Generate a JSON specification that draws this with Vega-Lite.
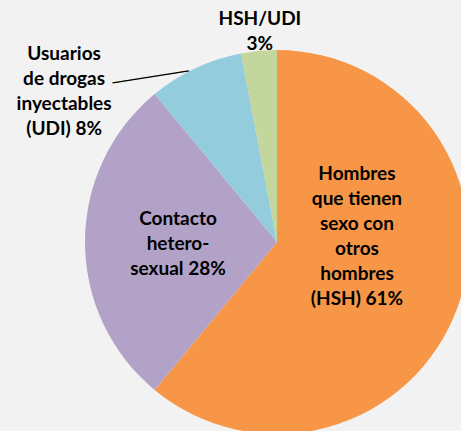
{
  "$schema": "https://vega.github.io/schema/vega-lite/v6.json",
  "width": 384,
  "height": 384,
  "autosize": "none",
  "padding": {"left": 85, "top": 50, "right": 0, "bottom": 0},
  "background": "#f2f2f2",
  "config": {"view": {"stroke": null}},
  "data": {
    "values": [
      {"grupo": "HSH", "pct": 61, "orden": 1, "etiqueta": "Hombres\nque tienen\nsexo con\notros\nhombres\n(HSH) 61%"},
      {"grupo": "Hetero", "pct": 28, "orden": 2, "etiqueta": "Contacto\nhetero-\nsexual 28%"},
      {"grupo": "UDI", "pct": 8, "orden": 3, "etiqueta": "Usuarios\nde drogas\ninyectables\n(UDI) 8%"},
      {"grupo": "HSH/UDI", "pct": 3, "orden": 4, "etiqueta": "HSH/UDI\n3%"}
    ]
  },
  "encoding": {
    "theta": {"field": "pct", "type": "quantitative", "stack": true},
    "order": {"field": "orden", "type": "quantitative"}
  },
  "layer": [
    {
      "mark": {"type": "arc", "outerRadius": 192},
      "encoding": {
        "color": {
          "field": "grupo",
          "type": "nominal",
          "scale": {"domain": ["HSH", "Hetero", "UDI", "HSH/UDI"], "range": ["#f79646", "#b2a2c7", "#93cddd", "#c3d69b"]},
          "legend": null
        }
      }
    },
    {
      "mark": {"type": "text", "radius": 85, "dy": -97, "font": "Lato", "fontWeight": "bold", "fontSize": 19, "lineBreak": "\n", "lineHeight": 25, "align": "center", "baseline": "middle", "color": "#000000"},
      "encoding": {"text": {"condition": {"test": "datum.grupo === 'HSH'", "field": "etiqueta"}, "value": ""}}
    },
    {
      "mark": {"type": "text", "radius": 99, "dy": -23, "font": "Lato", "fontWeight": "bold", "fontSize": 19, "lineBreak": "\n", "lineHeight": 25, "align": "center", "baseline": "middle", "color": "#000000"},
      "encoding": {"text": {"condition": {"test": "datum.grupo === 'Hetero'", "field": "etiqueta"}, "value": ""}}
    },
    {
      "mark": {"type": "text", "radius": 190, "dx": -132, "dy": -16, "font": "Lato", "fontWeight": "bold", "fontSize": 19, "lineBreak": "\n", "lineHeight": 25, "align": "center", "baseline": "middle", "color": "#000000"},
      "encoding": {"text": {"condition": {"test": "datum.grupo === 'UDI'", "field": "etiqueta"}, "value": ""}}
    },
    {
      "mark": {"type": "text", "radius": 214, "dx": 3, "dy": -10, "font": "Lato", "fontWeight": "bold", "fontSize": 19, "lineBreak": "\n", "lineHeight": 25, "align": "center", "baseline": "middle", "color": "#000000"},
      "encoding": {"text": {"condition": {"test": "datum.grupo === 'HSH/UDI'", "field": "etiqueta"}, "value": ""}}
    },
    {
      "mark": {"type": "text", "radius": 190, "dx": -46, "dy": 0, "angle": 351, "font": "DejaVu Sans", "fontSize": 16, "align": "center", "baseline": "middle", "color": "#000000"},
      "encoding": {"text": {"condition": {"test": "datum.grupo === 'UDI'", "value": "────────"}, "value": ""}}
    }
  ]
}
